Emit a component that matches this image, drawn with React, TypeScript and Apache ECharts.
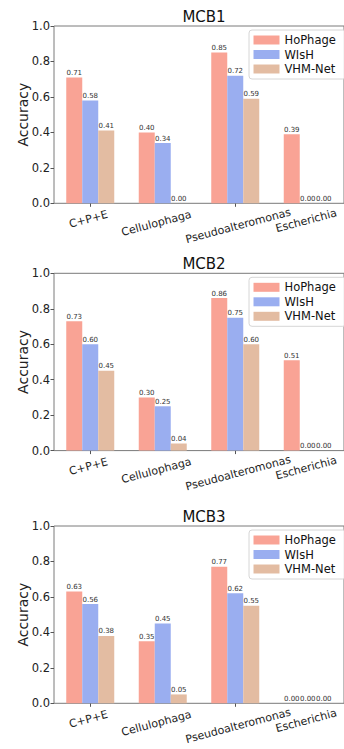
import React, { useEffect, useRef } from "react";
import * as echarts from "echarts";

// ---- data ----
const categories = ["C+P+E", "Cellulophaga", "Pseudoalteromonas", "Escherichia"];
const panelTitles = ["MCB1", "MCB2", "MCB3"];
const methods = ["HoPhage", "WIsH", "VHM-Net"];

const mcb1HoPhage = [0.71, 0.4, 0.85, 0.39];
const mcb1WIsH = [0.58, 0.34, 0.72, 0.0];
const mcb1VHMNet = [0.41, 0.0, 0.59, 0.0];

const mcb2HoPhage = [0.73, 0.3, 0.86, 0.51];
const mcb2WIsH = [0.6, 0.25, 0.75, 0.0];
const mcb2VHMNet = [0.45, 0.04, 0.6, 0.0];

const mcb3HoPhage = [0.63, 0.35, 0.77, 0.0];
const mcb3WIsH = [0.56, 0.45, 0.62, 0.0];
const mcb3VHMNet = [0.38, 0.05, 0.55, 0.0];

const yTicks = [0, 0.2, 0.4, 0.6, 0.8, 1.0];

// ---- styles ----
const FONT = "DejaVu Sans";
const colors = ["#f9a395", "#9aaef0", "#e3bca2"];
const gridTops = [26, 273.3, 526];
const gridH = 177.3;
const gridLeft = 54;
const gridW = 294.4;
// offset of each rotated category label's centre from its tick / baseline (px)
const labelOffsets = [
  [-1.8, 16],
  [-6.4, 20],
  [3, 22.5],
  [-1.6, 17.5],
];

export default function App() {
  const ref = useRef<HTMLDivElement>(null);
  useEffect(() => {
    if (!ref.current) return;
    const chart = echarts.init(ref.current, null, { renderer: "svg" });
    const panelData = [
      [mcb1HoPhage, mcb1WIsH, mcb1VHMNet],
      [mcb2HoPhage, mcb2WIsH, mcb2VHMNet],
      [mcb3HoPhage, mcb3WIsH, mcb3VHMNet],
    ];
    const grids = gridTops.map((t) => ({
      left: gridLeft,
      top: t,
      width: gridW,
      height: gridH,
      show: true,
      borderColor: "#7a7a7a",
      borderWidth: 1,
      backgroundColor: "transparent",
    }));
    const xAxes = gridTops.map((_, i) => ({
      type: "category",
      gridIndex: i,
      data: categories,
      axisLine: { show: false },
      axisTick: { show: true, alignWithLabel: true, length: 3.5, lineStyle: { color: "#555" } },
      axisLabel: { show: false },
      splitLine: { show: false },
    }));
    const yAxes = gridTops.map((_, i) => ({
      type: "value",
      gridIndex: i,
      min: yTicks[0],
      max: yTicks[yTicks.length - 1],
      interval: 0.2,
      name: "Accuracy",
      nameLocation: "middle",
      nameGap: 24,
      nameMoveOverlap: false,
      nameTextStyle: { fontFamily: FONT, fontSize: 14, color: "#222" },
      axisLine: { show: false },
      axisTick: { show: true, length: 3.5, lineStyle: { color: "#555" } },
      axisLabel: {
        fontFamily: FONT,
        fontSize: 11.5,
        color: "#222",
        margin: 4,
        formatter: (v: number) => v.toFixed(1),
      },
      splitLine: { show: false },
    }));
    const titles = gridTops.map((t, i) => ({
      text: panelTitles[i],
      left: gridLeft + 150,
      textAlign: "center",
      top: t - 17,
      padding: 0,
      textStyle: { fontFamily: FONT, fontSize: 15, fontWeight: "normal", color: "#111" },
    }));
    const legends = gridTops.map((t) => ({
      data: methods,
      orient: "vertical",
      left: 249,
      top: t + 4,
      padding: [4, 10, 4, 4.5],
      itemGap: 2.5,
      itemWidth: 26,
      itemHeight: 9,
      icon: "rect",
      selectedMode: false,
      backgroundColor: "rgba(255,255,255,0.85)",
      borderColor: "#d6d6d6",
      borderWidth: 1,
      borderRadius: 3,
      textStyle: { fontFamily: FONT, fontSize: 11.5, color: "#111" },
      z: 10,
    }));
    const series: any[] = [];
    panelData.forEach((arrs, i) => {
      arrs.forEach((vals, m) => {
        series.push({
          type: "bar",
          name: methods[m],
          xAxisIndex: i,
          yAxisIndex: i,
          data: vals,
          barWidth: 16,
          barGap: "0%",
          itemStyle: { color: colors[m] },
          label: {
            show: true,
            position: "top",
            distance: 1,
            fontFamily: FONT,
            fontSize: 7,
            color: "#333",
            textBorderWidth: 0,
            formatter: (p: any) => Number(p.value).toFixed(2),
          },
        });
      });
    });
    chart.setOption({
      animation: false,
      backgroundColor: "#fff",
      title: titles,
      legend: legends,
      grid: grids,
      xAxis: xAxes,
      yAxis: yAxes,
      series,
    });
    // rotated category labels, placed through the axes' own scales
    const graphics: any[] = [];
    gridTops.forEach((_, i) => {
      const y0 = chart.convertToPixel({ yAxisIndex: i }, 0) as number;
      categories.forEach((c, k) => {
        const x = chart.convertToPixel({ xAxisIndex: i }, c) as number;
        graphics.push({
          type: "text",
          x: x + labelOffsets[k][0],
          y: y0 + labelOffsets[k][1],
          rotation: Math.PI / 12,
          silent: true,
          style: {
            text: c,
            fontFamily: FONT,
            fontSize: 11,
            fill: "#222",
            align: "center",
            verticalAlign: "middle",
          },
        });
      });
    });
    chart.setOption({ graphic: graphics });
    return () => chart.dispose();
  }, []);
  return (
    <div
      ref={ref}
      style={{ position: "absolute", left: 0, top: 0, width: 344, height: 749 }}
    />
  );
}
